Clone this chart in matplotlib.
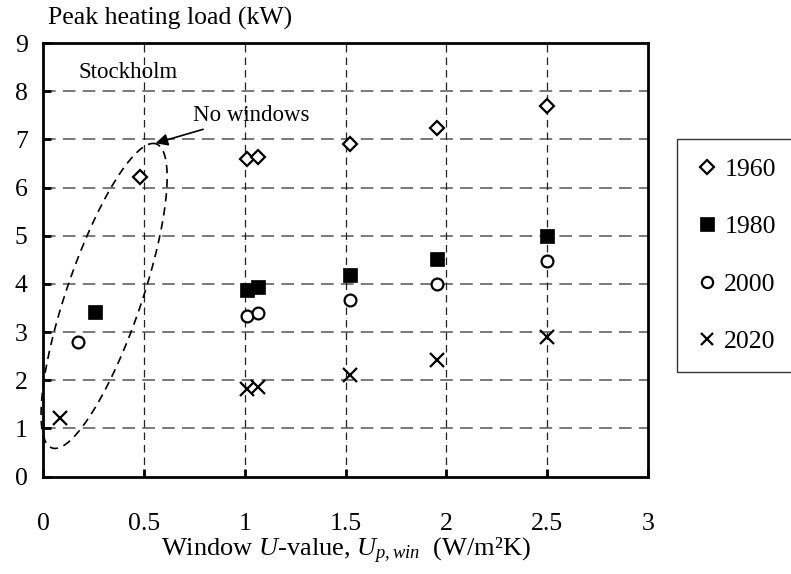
import numpy as np
import matplotlib
matplotlib.use("Agg")
import matplotlib.pyplot as plt

plt.rcParams['font.family'] = ['Liberation Serif', 'DejaVu Serif']
plt.rcParams['mathtext.fontset'] = 'custom'
plt.rcParams['mathtext.rm'] = 'Liberation Serif'
plt.rcParams['mathtext.it'] = 'Liberation Serif:italic'

# ---- data ----
u_1960 = [0.48, 1.01, 1.065, 1.52, 1.953, 2.50]
load_1960 = [6.21, 6.60, 6.64, 6.91, 7.23, 7.70]
u_1980 = [0.258, 1.01, 1.065, 1.52, 1.953, 2.50]
load_1980 = [3.41, 3.88, 3.93, 4.19, 4.51, 5.00]
u_2000 = [0.172, 1.01, 1.065, 1.52, 1.953, 2.50]
load_2000 = [2.80, 3.34, 3.40, 3.67, 4.00, 4.48]
u_2020 = [0.084, 1.01, 1.065, 1.52, 1.953, 2.50]
load_2020 = [1.22, 1.82, 1.86, 2.10, 2.43, 2.89]
series_labels = ["1960", "1980", "2000", "2020"]
x_ticks = [0, 0.5, 1, 1.5, 2, 2.5, 3]
x_tick_labels = ["0", "0.5", "1", "1.5", "2", "2.5", "3"]
y_ticks = list(range(0, 10))

W, H = 791, 574
fig = plt.figure(figsize=(W / 100, H / 100), dpi=100)
ax_l, ax_r, ax_t, ax_b = 43, 648, 43, 476.6
ax = fig.add_axes([ax_l / W, 1 - ax_b / H, (ax_r - ax_l) / W, (ax_b - ax_t) / H])

ax.set_xlim(0, 3)
ax.set_ylim(0, 9)

# grid
for yv in y_ticks[1:-1]:
    ax.axhline(yv, color='#6e6e6e', lw=1.3, dashes=(7, 4), zorder=1)
for xv in x_ticks[1:-1]:
    ax.axvline(xv, color='#222222', lw=0.9, dashes=(6, 4), zorder=1)

h1, = ax.plot(u_1960, load_1960, ls='none', marker='D', ms=7, mfc='white', mec='black', mew=1.6, zorder=3)
h2, = ax.plot(u_1980, load_1980, ls='none', marker='s', ms=10.5, mfc='black', mec='black', mew=0.5, zorder=3)
h3, = ax.plot(u_2000, load_2000, ls='none', marker='o', ms=8.5, mfc='white', mec='black', mew=1.6, zorder=3)
h4, = ax.plot(u_2020, load_2020, ls='none', marker='x', ms=9.5, mec='black', mew=1.6, zorder=3)

ax.set_xticks(x_ticks)
ax.set_xticklabels(x_tick_labels)
ax.set_yticks(y_ticks)
ax.tick_params(axis='both', direction='in', length=6, width=2, labelsize=18.5)
ax.tick_params(axis='x', pad=26)
ax.tick_params(axis='y', pad=11)
for s in ax.spines.values():
    s.set_linewidth(2)
    s.set_color('black')

ax.set_xlabel(r"Window $U$-value, $U_{p,win}$  (W/m²K)", fontsize=19, labelpad=1)
fig.text(48 / W, 1 - 18 / H, "Peak heating load (kW)", fontsize=18.5, ha='left', va='center')

ax.text(0.174, 8.39, "Stockholm", fontsize=16.5, ha='left', va='center')
ax.annotate("No windows", xy=(0.558, 6.92), xytext=(0.744, 7.50), fontsize=16.5,
            ha='left', va='center',
            arrowprops=dict(arrowstyle='-|>', color='black', lw=1.2, mutation_scale=18,
                            shrinkA=2, shrinkB=0))

# dashed ellipse around the "no windows" points (drawn in pixel geometry)
px_x = (ax_r - ax_l) / 3.0
px_y = (ax_b - ax_t) / 9.0
cx, cy = 0.303, 3.75
a_px, b_px, ang = 160.7, 37.6, np.deg2rad(71.1)
t = np.linspace(0, 2 * np.pi, 400)
ex = a_px * np.cos(t) * np.cos(ang) - b_px * np.sin(t) * np.sin(ang)
ey = a_px * np.cos(t) * np.sin(ang) + b_px * np.sin(t) * np.cos(ang)
ax.plot(cx + ex / px_x, cy + ey / px_y, color='black', lw=1.2, dashes=(5, 3.5), zorder=2, clip_on=False)

leg = fig.legend([h1, h2, h3, h4], series_labels, loc='upper left',
                 bbox_to_anchor=(677 / W, 1 - 368 / H, 140 / W, 229 / H), mode='expand',
                 fontsize=18.5, frameon=True, fancybox=False, edgecolor='black',
                 handlelength=0.85, handletextpad=0.24, labelspacing=1.33,
                 borderpad=0.75, borderaxespad=0, markerscale=0.95)
leg.get_frame().set_linewidth(1.0)

fig.savefig("out.png", dpi=100)
